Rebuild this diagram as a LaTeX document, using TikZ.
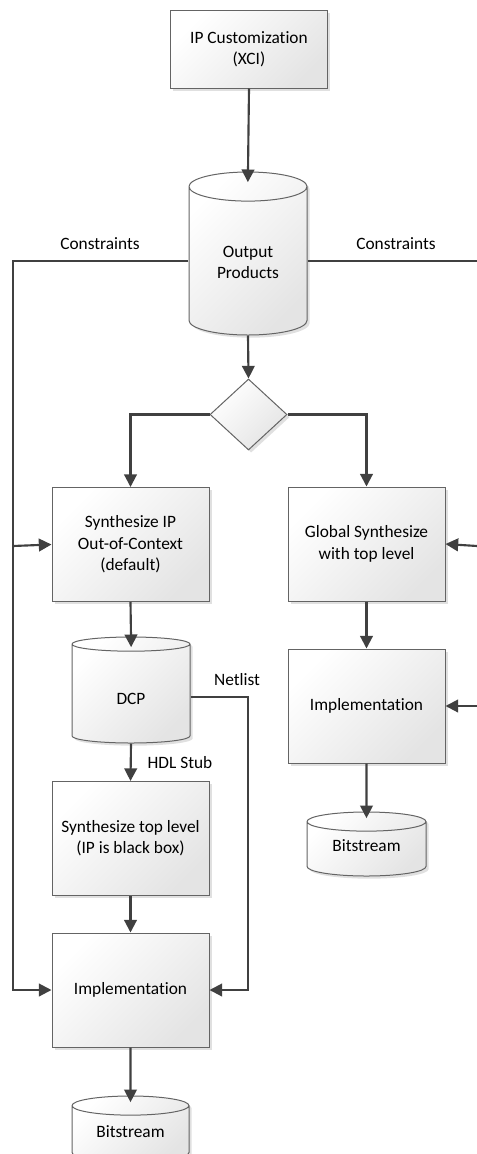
\documentclass[tikz,border=0pt]{standalone}
\usepackage{fontspec}
\setmainfont{Carlito}[Ligatures={NoCommon}]
\usetikzlibrary{shapes.geometric,shadows,arrows.meta}

\definecolor{linegray}{RGB}{64,64,64}
\definecolor{boxgray}{RGB}{100,100,100}
\definecolor{shadegray}{RGB}{228,228,228}

\newcommand{\cantext}[2]{\raisebox{#1}[\height][\depth]{#2}}

\tikzset{
  flowshape/.style={draw=boxgray, line width=0.75pt, top color=white, bottom color=shadegray, shading angle=45,
    drop shadow={shadow xshift=2pt, shadow yshift=-2pt, fill=black, opacity=0.12},
    align=center, inner sep=1pt, font=\fontsize{13}{16}\selectfont},
  procbox/.style={flowshape, rectangle, minimum width=117.75pt, minimum height=85.5pt},
  datastore/.style={flowshape, cylinder, shape border rotate=90, aspect=#1, anchor=shape center},
  datastore/.default=0.45,
  choice/.style={flowshape, diamond, inner sep=0pt, minimum width=57.75pt, minimum height=53.25pt},
  flowline/.style={draw=linegray, line width=1.6pt},
  flow/.style={flowline, -{Triangle[length=9.5pt,width=9.5pt]}},
  lbl/.style={inner sep=0.75pt, font=\fontsize{13}{16}\selectfont}
}

\begin{document}
\begin{tikzpicture}[x=0.75pt,y=0.75pt,yscale=-1,xscale=1]
\useasboundingbox (0,0) rectangle (477,1154);

%Shape: Rectangle [id:ipc]
\node[procbox, minimum height=58.5pt] (ipc) at (249,49) {IP Customization\\(XCI)};
%Shape: Can [id:op]
\node[datastore, minimum width=88.5pt, minimum height=122.25pt] (op) at (248,253.5) {Output\\Products};
%Shape: Diamond [id:dec]
\node[choice] (dec) at (248.5,414.5) {};

%Shape: Rectangle [id:sip]
\node[procbox] (sip) at (130.5,544.5) {Synthesize IP\\Out-of-Context\\(default)};
%Shape: Can [id:dcp]
\node[datastore, minimum width=88.5pt, minimum height=79.5pt] (dcp) at (131,690) {\cantext{-3pt}{DCP}};
%Shape: Rectangle [id:stl]
\node[procbox] (stl) at (130.5,838.5) {Synthesize top level\\(IP is black box)};
%Shape: Rectangle [id:impl]
\node[procbox] (impl) at (130.5,990) {Implementation};
%Shape: Can [id:bitl]
\node[datastore=0.27, minimum width=87.75pt, minimum height=49.5pt] (bitl) at (130.5,1129) {\cantext{2.25pt}{Bitstream}};

%Shape: Rectangle [id:gsyn]
\node[procbox] (gsyn) at (366.5,544) {Global Synthesize\\with top level};
%Shape: Rectangle [id:impr]
\node[procbox] (impr) at (366.5,706) {Implementation};
%Shape: Can [id:bitr]
\node[datastore=0.27, minimum width=89.25pt, minimum height=48pt] (bitr) at (366.5,844) {\cantext{3.5pt}{Bitstream}};

%Free ends of the constraint lines
\coordinate (lbus) at (13,261);
\coordinate (rbus) at (477,261);
\coordinate (lsip) at (13,546);
\coordinate (limpl) at (13,990);
\coordinate (rgsyn) at (477,546);
\coordinate (rimpr) at (477,706);
\coordinate (net) at (248,697);

%Straight Lines
\draw[flow, shorten >=-8pt] (ipc.south) -- (op.north);
\draw[flow] (op.south) -- (dec.north);
\draw[flow] (dec.west) -| (sip.north);
\draw[flow] (dec.east) -| (gsyn.north);
\draw[flow, shorten >=-8pt] (sip.south) -- (dcp.north);
\draw[flow] (dcp.south) -- (stl.north);
\draw[flow] (stl.south) -- (impl.north);
\draw[flow, shorten >=-5pt] (impl.south) -- (bitl.north);
\draw[flow] (gsyn.south) -- (impr.north);
\draw[flow, shorten >=-5pt] (impr.south) -- (bitr.north);

%Constraints
\draw[flow] (op.west |- lbus) -- (lbus) -- (limpl) -- (impl.west);
\draw[flow] (lsip) -- (sip.west);
\draw[flowline] (op.east |- rbus) -- (rbus);
\draw[flow] (rgsyn) -- (gsyn.east);
\draw[flow] (rimpr) -- (impr.east);
%Netlist
\draw[flow] (dcp.east |- net) -- (net) |- (impl.east);

% Text Node
\node[lbl] (cl) at (100,244) {Constraints};
% Text Node
\node[lbl] (cr) at (396,244) {Constraints};
% Text Node
\node[lbl] (nl) at (237,680) {Netlist};
% Text Node
\node[lbl] (hs) at (180,763) {HDL Stub};

\end{tikzpicture}
\end{document}
